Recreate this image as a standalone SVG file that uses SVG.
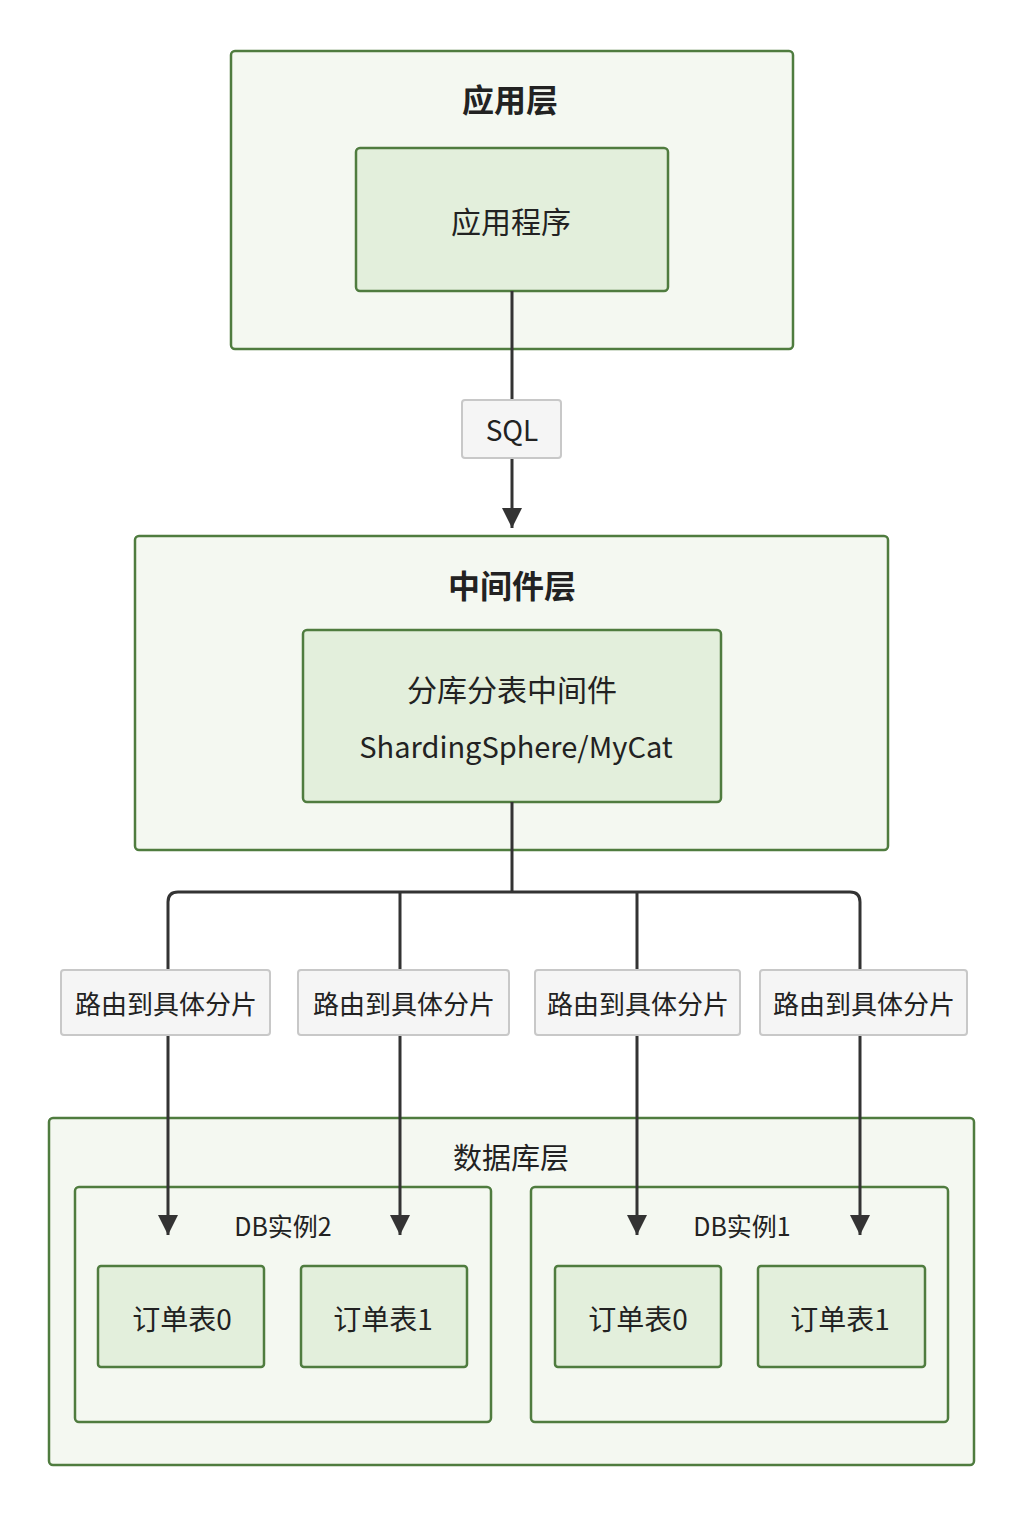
<svg xmlns="http://www.w3.org/2000/svg" width="1024" height="1536" viewBox="0 0 1024 1536">
<style>
.outer{fill:#f4f8f1;stroke:#4f7c3f;stroke-width:2.5}
.inner{fill:#e3efdc;stroke:#4f7c3f;stroke-width:2.5}
.lbl{fill:#f5f5f5;stroke:#c8c8c8;stroke-width:2}
.t{font-family:"Noto Sans CJK SC","Noto Sans",sans-serif;fill:#222;text-anchor:middle;dominant-baseline:central}
.edge{fill:none;stroke:#333;stroke-width:3}
</style>
<defs>
<marker id="a" viewBox="0 0 10 10" refX="10" refY="5" markerWidth="20" markerHeight="20" markerUnits="userSpaceOnUse" orient="auto"><path d="M0,0L10,5L0,10z" fill="#333"/></marker></defs>
<rect width="1024" height="1536" fill="#fff"/>
<g id="app-layer"><rect class="outer" x="231" y="51" width="562" height="298" rx="4"/><text class="t" x="510" y="98" font-size="32" font-weight="bold">应用层</text></g>
<g id="app"><rect class="inner" x="356" y="148" width="312" height="143" rx="4"/><text class="t" x="511" y="220" font-size="30">应用程序</text></g>
<g id="mid-layer"><rect class="outer" x="135" y="536" width="753" height="314" rx="4"/><text class="t" x="512" y="584" font-size="32" font-weight="bold">中间件层</text></g>
<g id="mid"><rect class="inner" x="303" y="630" width="418" height="172" rx="4"/><text class="t" x="512" y="688" font-size="30">分库分表中间件</text><text class="t" x="516" y="745" font-size="29">ShardingSphere/MyCat</text></g>
<g id="db-layer"><rect class="outer" x="49" y="1118" width="925" height="347" rx="4"/><text class="t" x="511" y="1156" font-size="29">数据库层</text></g>
<g id="db2"><rect class="outer" x="75" y="1187" width="416" height="235" rx="4"/><text class="t" x="283" y="1225" font-size="25">DB实例2</text></g>
<g id="db1"><rect class="outer" x="531" y="1187" width="417" height="235" rx="4"/><text class="t" x="742" y="1225" font-size="25">DB实例1</text></g>
<g id="t20"><rect class="inner" x="98" y="1266" width="166" height="101" rx="3"/><text class="t" x="182" y="1318" font-size="28">订单表0</text></g>
<g id="t21"><rect class="inner" x="301" y="1266" width="166" height="101" rx="3"/><text class="t" x="383" y="1318" font-size="28">订单表1</text></g>
<g id="t10"><rect class="inner" x="555" y="1266" width="166" height="101" rx="3"/><text class="t" x="638" y="1318" font-size="28">订单表0</text></g>
<g id="t11"><rect class="inner" x="758" y="1266" width="167" height="101" rx="3"/><text class="t" x="840" y="1318" font-size="28">订单表1</text></g>
<g id="connectors">
<path class="edge" d="M512,291V528" marker-end="url(#a)"/>
<path class="edge" d="M512,802V892"/>
<path class="edge" d="M512,892H178Q168,892 168,902V1235" marker-end="url(#a)"/>
<path class="edge" d="M400,892V1235" marker-end="url(#a)"/>
<path class="edge" d="M512,892H850Q860,892 860,902V1235" marker-end="url(#a)"/>
<path class="edge" d="M637,892V1235" marker-end="url(#a)"/>
<g><rect class="lbl" x="462" y="400" width="99" height="58" rx="3"/><text class="t" x="512" y="429" font-size="28">SQL</text></g>
<g><rect class="lbl" x="61" y="970" width="209" height="65" rx="3"/><text class="t" x="166" y="1002" font-size="26">路由到具体分片</text></g>
<g><rect class="lbl" x="298" y="970" width="211" height="65" rx="3"/><text class="t" x="404" y="1002" font-size="26">路由到具体分片</text></g>
<g><rect class="lbl" x="535" y="970" width="205" height="65" rx="3"/><text class="t" x="638" y="1002" font-size="26">路由到具体分片</text></g>
<g><rect class="lbl" x="760" y="970" width="207" height="65" rx="3"/><text class="t" x="864" y="1002" font-size="26">路由到具体分片</text></g>
</g>
</svg>
